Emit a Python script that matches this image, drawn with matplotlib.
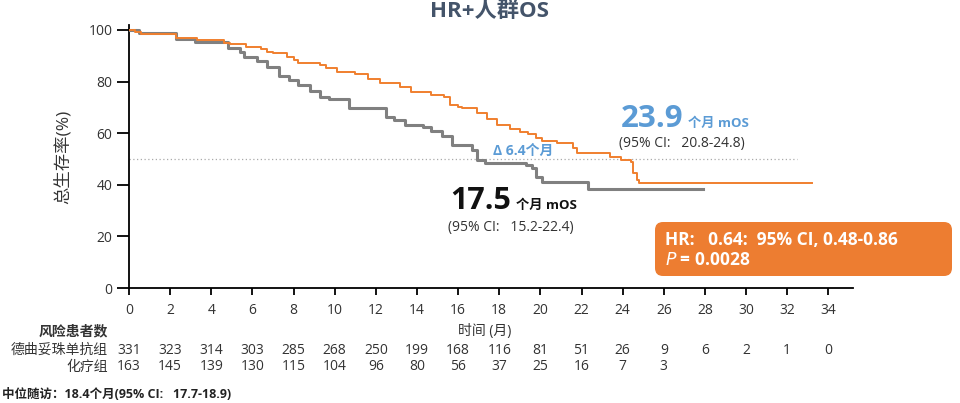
import matplotlib
matplotlib.use("Agg")
import matplotlib.pyplot as plt
from matplotlib.patches import FancyBboxPatch
from matplotlib.transforms import blended_transform_factory

plt.rcParams['font.family'] = ['Open Sans', 'Noto Sans CJK SC', 'DejaVu Sans']

# --- data ---
tdxd_t = [0, 0.3, 0.6, 2.3, 3.3, 4.6, 4.9, 5.7, 6.4, 6.7, 7.0, 7.7, 8.0, 8.2, 9.3, 9.6,
          10.1, 11.0, 11.6, 12.2, 13.2, 13.7, 14.7, 15.3, 15.6, 16.0, 16.2, 16.9, 17.4,
          17.9, 18.5, 19.0, 19.4, 19.8, 20.1, 20.8, 21.6, 21.8, 23.4, 23.9, 24.4, 24.5,
          24.7, 24.8, 33.2]
tdxd_s = [100, 99.3, 98.3, 97.0, 96.1, 95.0, 94.4, 93.5, 92.6, 91.6, 91.0, 89.7, 88.4, 87.3,
          86.4, 85.2, 83.8, 82.8, 80.9, 79.3, 78.0, 76.1, 74.8, 73.9, 71.0, 70.3, 69.6,
          67.7, 65.4, 63.2, 61.5, 60.6, 59.7, 58.0, 57.1, 56.2, 54.1, 52.2, 50.9, 49.6,
          49.0, 44.4, 41.9, 40.6, 40.6]

chemo_t = [0, 0.5, 2.3, 3.2, 4.8, 5.4, 5.6, 6.2, 6.7, 7.3, 7.8, 8.2, 8.8, 9.3, 9.7, 10.7,
           12.5, 12.9, 13.4, 14.3, 14.7, 15.2, 15.7, 16.7, 16.9, 17.3, 19.3, 19.6, 19.8,
           20.1, 22.3, 27.9]
chemo_s = [100, 99.0, 96.5, 95.5, 93.0, 91.6, 89.7, 88.0, 85.8, 82.0, 80.6, 78.7, 76.3,
           74.2, 73.4, 69.9, 66.4, 65.0, 63.3, 62.3, 60.8, 58.9, 55.4, 53.3, 49.6, 48.3,
           47.7, 46.5, 43.1, 41.2, 38.2, 38.2]

x_ticks = list(range(0, 35, 2))
y_ticks = [0, 20, 40, 60, 80, 100]
risk_tdxd = ["331", "323", "314", "303", "285", "268", "250", "199", "168", "116", "81",
             "51", "26", "9", "6", "2", "1", "0"]
risk_chemo = ["163", "145", "139", "130", "115", "104", "96", "80", "56", "37", "25",
              "16", "7", "3"]
group_names = ["德曲妥珠单抗组", "化疗组"]

ORANGE = "#F07F2E"
GRAY = "#808080"
BLUE = "#5B9BD5"
TXT = "#333333"
FS = 10

fig = plt.figure(figsize=(9.6, 4.03), dpi=100)
ax = fig.add_axes([129/960, 1-288/403, (853-129)/960, (288-24.8)/403])

ax.step(chemo_t, chemo_s, where='post', color=GRAY, lw=2.2, zorder=3)
ax.step(tdxd_t, tdxd_s, where='post', color=ORANGE, lw=1.4, zorder=4)
ax.plot([0, 32.5], [50, 50], color="#AAAAAA", lw=0.9, ls=(0, (1, 2)), zorder=2)

ax.set_xlim(0, 35.2)
ax.set_ylim(0, 102)
ax.set_xticks(x_ticks)
ax.set_yticks(y_ticks)
for s in ['top', 'right']:
    ax.spines[s].set_visible(False)
ax.spines['left'].set_linewidth(1.3)
ax.spines['bottom'].set_linewidth(1.3)
ax.tick_params(axis='y', direction='out', length=9, width=1.3, labelsize=FS,
               labelcolor=TXT, pad=3)
ax.tick_params(axis='x', direction='out', length=5, width=1.3, labelsize=FS,
               labelcolor=TXT, pad=6)
ax.set_ylabel("总生存率(%)", fontsize=12.5, color=TXT, labelpad=12)

# title
fig.text(0.51, 0.972, "HR+人群OS", ha='center', va='center', fontsize=16,
         fontweight='bold', color="#44546A")

# annotations
ax.text(23.9, 62.5, "23.9", fontsize=22.5, fontweight='bold', color=BLUE, ha='left',
        va='baseline')
ax.text(27.2, 62.5, "个月 mOS", fontsize=9.5, fontweight='bold', color=BLUE,
        ha='left', va='baseline')
ax.text(23.8, 54.5, "(95% CI:   20.8-24.8)", fontsize=10, color=TXT, ha='left',
        va='baseline')
ax.text(17.7, 51.5, "Δ 6.4个月", fontsize=10, fontweight='bold', color=BLUE,
        ha='left', va='baseline')
ax.text(15.6, 30.5, "17.5", fontsize=22, fontweight='bold', color="#111111",
        ha='left', va='baseline')
ax.text(18.8, 30.5, "个月 mOS", fontsize=9.5, fontweight='bold', color="#111111",
        ha='left', va='baseline')
ax.text(15.5, 22.0, "(95% CI:   15.2-22.4)", fontsize=10, color=TXT, ha='left',
        va='baseline')

# HR box
box = FancyBboxPatch((6.55, (403-276)/100), 2.97, 0.54,
                     boxstyle="round,pad=0,rounding_size=0.08",
                     transform=fig.dpi_scale_trans, facecolor="#ED7D31",
                     edgecolor='none', zorder=5)
fig.add_artist(box)
fig.text(665/960, 1-240/403, "HR:   0.64:  95% CI, 0.48-0.86", fontsize=12.5,
         fontweight='bold', color='white', ha='left', va='center', zorder=6)
fig.text(665/960, 1-260/403, r"$\it{P}$ = 0.0028", fontsize=12.5, fontweight='bold',
         color='white', ha='left', va='center', zorder=6)

# risk table
tr = blended_transform_factory(ax.transData, fig.transFigure)
fig.text(108/960, 1-331/403, "风险患者数", fontsize=FS, fontweight='bold',
         color=TXT, ha='right', va='center')
ax.text(17.3, 1-331/403, "时间 (月)", transform=tr, fontsize=FS, color=TXT,
        ha='center', va='center')
fig.text(108/960, 1-350/403, group_names[0], fontsize=FS, color=TXT, ha='right',
         va='center')
fig.text(108/960, 1-367/403, group_names[1], fontsize=FS, color=TXT, ha='right',
         va='center')
for x, v in zip(x_ticks, risk_tdxd):
    ax.text(x, 1-350/403, v, transform=tr, fontsize=FS, color=TXT, ha='center',
            va='center')
for x, v in zip(x_ticks, risk_chemo):
    ax.text(x, 1-367/403, v, transform=tr, fontsize=FS, color=TXT, ha='center',
            va='center')

fig.text(2/960, 1-394/403, "中位随访：18.4个月(95% CI:   17.7-18.9)", fontsize=9,
         fontweight='bold', color="#222222", ha='left', va='center')

fig.savefig("out.png", dpi=100)
